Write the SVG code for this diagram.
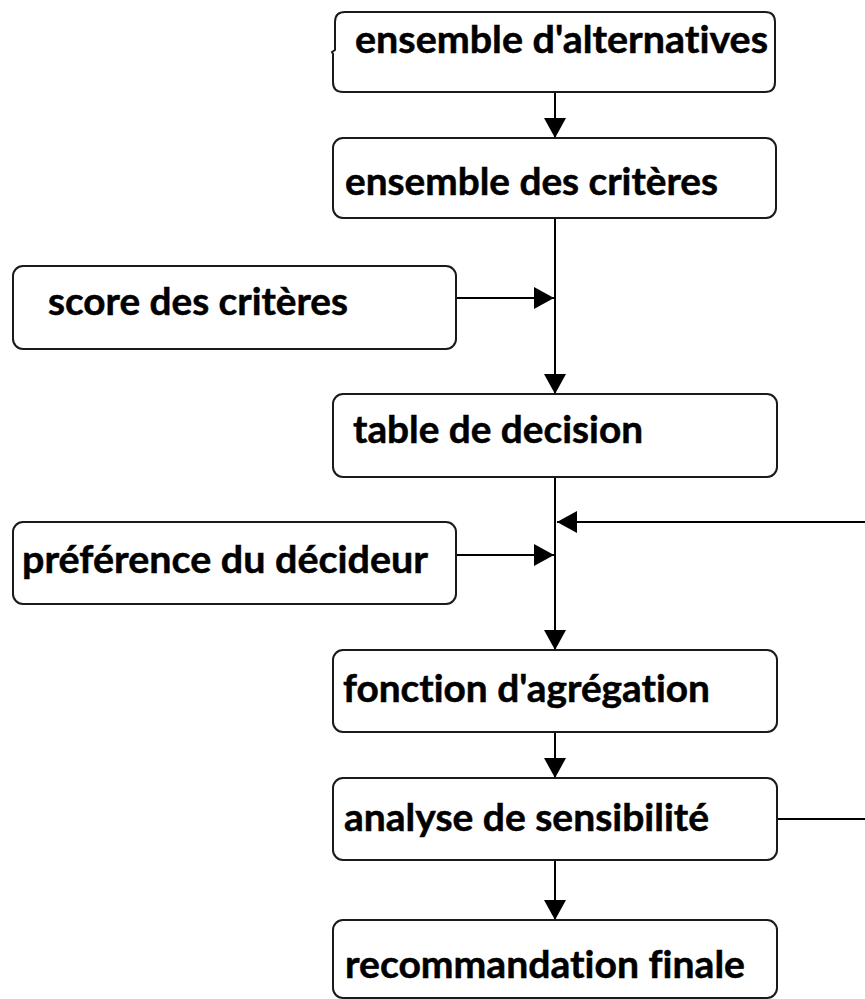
<svg xmlns="http://www.w3.org/2000/svg" width="865" height="999" viewBox="0 0 865 999">
  <defs>
    <marker id="arrow" markerUnits="userSpaceOnUse" markerWidth="21" markerHeight="22" refX="20" refY="11" orient="auto" viewBox="0 0 21 22">
      <path d="M0,0 L20,11 L0,22 Z" fill="#000"/>
    </marker>
    <style>
      .box { fill: #fff; stroke: #1a1a1a; stroke-width: 2; }
      .label { font-family: Lato, "Liberation Sans", sans-serif; font-weight: bold; font-size: 38px; fill: #000; stroke: #000; stroke-width: 0.5; font-variant-ligatures: none; font-feature-settings: "liga" 0, "clig" 0; }
      .conn { fill: none; stroke: #000; stroke-width: 2; }
    </style>
  </defs>

  <rect width="865" height="999" fill="#fff"/>

  <!-- connectors -->
  <g id="connectors">
    <line class="conn" x1="555" y1="92" x2="555" y2="138" marker-end="url(#arrow)"/>
    <line class="conn" x1="555" y1="218" x2="555" y2="394" marker-end="url(#arrow)"/>
    <line class="conn" x1="456" y1="298" x2="554" y2="298" marker-end="url(#arrow)"/>
    <line class="conn" x1="555" y1="477" x2="555" y2="650" marker-end="url(#arrow)"/>
    <line class="conn" x1="456" y1="555" x2="554" y2="555" marker-end="url(#arrow)"/>
    <path class="conn" d="M777,819 H880 V522 H557" marker-end="url(#arrow)"/>
    <line class="conn" x1="555" y1="732" x2="555" y2="778" marker-end="url(#arrow)"/>
    <line class="conn" x1="555" y1="860" x2="555" y2="920" marker-end="url(#arrow)"/>
  </g>

  <!-- nodes -->
  <g id="alternatives">
    <path class="box" d="M345,12 H765 Q775,12 775,22 V82 Q775,92 765,92 H343 Q333,92 333,82 V54 L332,52 L335,50 V22 Q335,12 345,12 Z"/>
    <text class="label" x="355" y="53" textLength="413" lengthAdjust="spacingAndGlyphs">ensemble d'alternatives</text>
  </g>

  <g id="criteres">
    <rect class="box" x="333" y="138" width="443" height="80" rx="10"/>
    <text class="label" x="345" y="195" textLength="373" lengthAdjust="spacingAndGlyphs">ensemble des critères</text>
  </g>

  <g id="score">
    <rect class="box" x="13" y="266" width="443" height="83" rx="10"/>
    <text class="label" x="48" y="315" textLength="300" lengthAdjust="spacingAndGlyphs">score des critères</text>
  </g>

  <g id="table">
    <rect class="box" x="333" y="394" width="444" height="83" rx="10"/>
    <text class="label" x="353" y="443" textLength="290" lengthAdjust="spacingAndGlyphs">table de decision</text>
  </g>

  <g id="preference">
    <rect class="box" x="13" y="522" width="443" height="82" rx="10"/>
    <text class="label" x="22" y="573" textLength="406" lengthAdjust="spacingAndGlyphs">préférence du décideur</text>
  </g>

  <g id="agregation">
    <rect class="box" x="333" y="650" width="444" height="82" rx="10"/>
    <text class="label" x="343" y="702" textLength="367" lengthAdjust="spacingAndGlyphs">fonction d'agrégation</text>
  </g>

  <g id="sensibilite">
    <rect class="box" x="333" y="778" width="444" height="82" rx="10"/>
    <text class="label" x="344" y="831" textLength="365" lengthAdjust="spacingAndGlyphs">analyse de sensibilité</text>
  </g>

  <g id="recommandation">
    <rect class="box" x="333" y="920" width="444" height="78" rx="10"/>
    <text class="label" x="345" y="978" textLength="400" lengthAdjust="spacingAndGlyphs">recommandation finale</text>
  </g>
</svg>
